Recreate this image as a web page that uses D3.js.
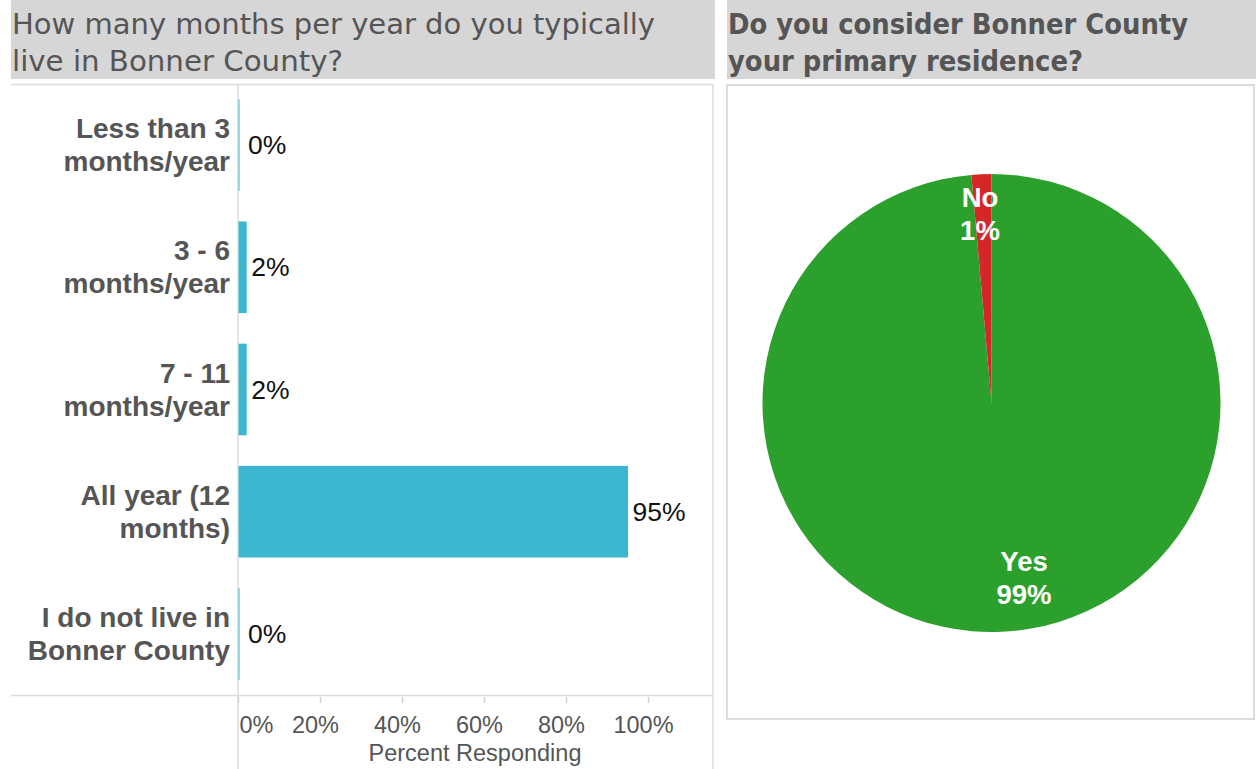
<!DOCTYPE html>
<html>
<head>
<meta charset="utf-8">
<script src="https://cdn.jsdelivr.net/npm/d3@7"></script>
<style>
  html, body { margin: 0; padding: 0; background: #fff; }
  svg { display: block; }
</style>
</head>
<body>
<svg id="chart" width="1256" height="769"></svg>
<script>
// Months per year lived in the county
const monthCategories = [
  ["Less than 3", "months/year"],
  ["3 - 6", "months/year"],
  ["7 - 11", "months/year"],
  ["All year (12", "months)"],
  ["I do not live in", "Bonner County"]
];
const monthShares = [0, 0.02, 0.02, 0.95, 0];
const axisTicks = [0, 0.2, 0.4, 0.6, 0.8, 1];

// Primary residence answers
const residenceAnswers = ["Yes", "No"];
const residenceShares = [0.986, 0.014];
const residenceColors = ["#2ca02c", "#d62728"];

const leftTitle = ["How many months per year do you typically", "live in Bonner County?"];
const rightTitle = ["Do you consider Bonner County", "your primary residence?"];

const svg = d3.select("#chart");
const font = "'Liberation Sans', Arial, sans-serif";
const pct = d3.format(".0%");

// ---------- title bars ----------
function titleBar(x0, x1, lines, weight, width1, width2) {
  svg.append("rect").attr("x", x0).attr("y", 0).attr("width", x1 - x0).attr("height", 79)
    .attr("fill", "#d6d6d6");
  lines.forEach((t, i) => {
    svg.append("text")
      .attr("x", x0 + 1).attr("y", 34 + i * 37)
      .attr("font-family", "'DejaVu Sans Condensed', 'DejaVu Sans', sans-serif")
      .attr("font-size", 28)
      .attr("font-weight", weight)
      .attr("fill", "#555")
      .attr("textLength", i === 0 ? width1 : width2)
      .attr("lengthAdjust", "spacingAndGlyphs")
      .text(t);
  });
}
titleBar(11, 715, leftTitle, "normal", 643, 331);
titleBar(727, 1256, rightTitle, "bold", 460, 355);

// ---------- bar chart ----------
const x = d3.scaleLinear().domain([0, 1]).range([238, 648]);
const y = d3.scaleBand().domain(d3.range(monthCategories.length))
  .range([84, 695]).paddingInner(0.25).paddingOuter(0.125);

const frame = svg.append("g").attr("stroke", "#dcdcdc").attr("stroke-width", 1.5).attr("fill", "none");
frame.append("line").attr("x1", 11).attr("x2", 713).attr("y1", 84.5).attr("y2", 84.5);
frame.append("line").attr("x1", 11).attr("x2", 713).attr("y1", 695.5).attr("y2", 695.5);
frame.append("line").attr("x1", 713).attr("x2", 713).attr("y1", 84).attr("y2", 769);
frame.append("line").attr("x1", x(0)).attr("x2", x(0)).attr("y1", 84).attr("y2", 769);

svg.append("g").selectAll("rect").data(monthShares).join("rect")
  .attr("x", x(0) + 0.5)
  .attr("y", (d, i) => y(i))
  .attr("width", d => Math.max(1, x(d) - x(0)))
  .attr("height", y.bandwidth())
  .attr("fill", "#3db7cf");

svg.append("g").selectAll("text").data(monthShares).join("text")
  .attr("x", d => x(d) + (d === 0 ? 10 : 5))
  .attr("y", (d, i) => y(i) + y.bandwidth() / 2)
  .attr("dominant-baseline", "central")
  .attr("font-family", font).attr("font-size", 26.5).attr("fill", "#111")
  .text(d => pct(d));

const cat = svg.append("g").selectAll("text").data(monthCategories).join("text")
  .attr("text-anchor", "end")
  .attr("font-family", font).attr("font-size", 28).attr("font-weight", "bold").attr("fill", "#555");
cat.selectAll("tspan").data((d, i) => d.map((t, j) => ({ t, i, j }))).join("tspan")
  .attr("x", 230)
  .attr("y", d => y(d.i) + y.bandwidth() / 2 + (d.j === 0 ? -16.5 : 16.5))
  .attr("dominant-baseline", "central")
  .text(d => d.t);

// x axis
const axis = svg.append("g").attr("transform", "translate(0,697)")
  .call(d3.axisBottom(x).tickValues(axisTicks).tickFormat(pct).tickSize(6).tickPadding(13));
axis.select(".domain").remove();
axis.selectAll(".tick line").attr("stroke", "#d0d0d0").attr("stroke-width", 1.5);
axis.selectAll(".tick text")
  .attr("font-family", font).attr("font-size", 23.5).attr("fill", "#555")
  .attr("text-anchor", d => d === 0 ? "start" : "middle")
  .attr("dx", d => d === 0 ? 1 : -5);
svg.append("text").attr("x", 475).attr("y", 761).attr("text-anchor", "middle")
  .attr("font-family", font).attr("font-size", 23.5).attr("fill", "#555")
  .text("Percent Responding");

// ---------- pie chart ----------
svg.append("rect").attr("x", 727).attr("y", 85).attr("width", 527).attr("height", 634)
  .attr("fill", "none").attr("stroke", "#dcdcdc").attr("stroke-width", 2);

const cx = 991.5, cy = 403, r = 229;
const pie = d3.pie().sort(null).value(d => d)(residenceShares);
const arc = d3.arc().innerRadius(0).outerRadius(r);
const pg = svg.append("g").attr("transform", `translate(${cx},${cy})`);
pg.selectAll("path").data(pie).join("path")
  .attr("d", arc)
  .attr("fill", (d, i) => residenceColors[i]);

// label positions: radius and angular nudge (radians) per slice
const labelRadius = [178, 189];
const labelNudge = [-0.14, -0.017];
const lab = pg.selectAll("text").data(pie).join("text")
  .attr("text-anchor", "middle")
  .attr("font-family", font).attr("font-size", 27.5).attr("font-weight", "bold").attr("fill", "#fff");
lab.each(function(d, i) {
  const a = (d.startAngle + d.endAngle) / 2 + labelNudge[i];
  const lx = Math.sin(a) * labelRadius[i];
  const ly = -Math.cos(a) * labelRadius[i];
  const t = d3.select(this);
  t.append("tspan").attr("x", lx).attr("y", ly - 16.5).attr("dominant-baseline", "central")
    .text(residenceAnswers[i]);
  t.append("tspan").attr("x", lx).attr("y", ly + 16.5).attr("dominant-baseline", "central")
    .text(pct(d.data));
});
</script>
</body>
</html>
